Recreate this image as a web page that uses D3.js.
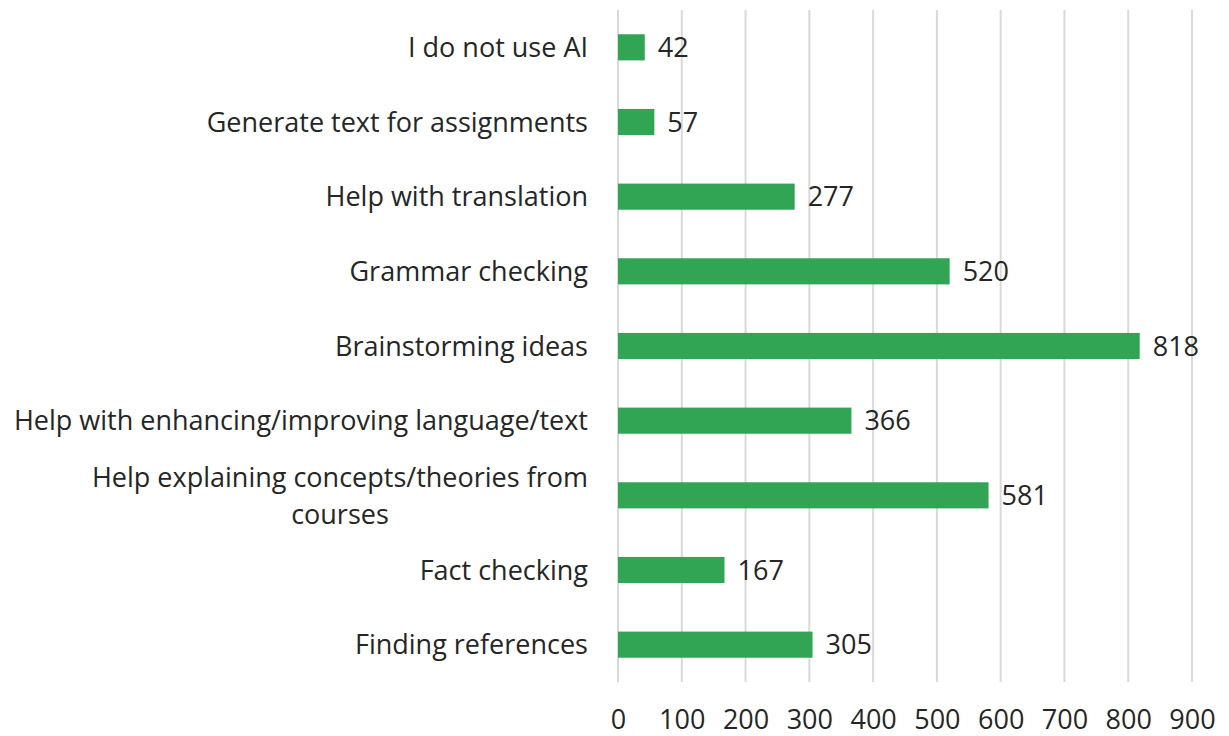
<!DOCTYPE html>
<html>
<head>
<meta charset="utf-8">
<script src="https://cdn.jsdelivr.net/npm/d3@7"></script>
<style>
  body { margin: 0; background: #fff; }
  svg text { font-family: "Open Sans", sans-serif; fill: #262626; }
</style>
</head>
<body>
<div id="chart"></div>
<script>
// categories top to bottom, with their counts
var categories = [
    "I do not use AI",
    "Generate text for assignments",
    "Help with translation",
    "Grammar checking",
    "Brainstorming ideas",
    "Help with enhancing/improving language/text",
    "Help explaining concepts/theories from courses",
    "Fact checking",
    "Finding references"
];
var values = [42, 57, 277, 520, 818, 366, 581, 167, 305];
var ticks = [0, 100, 200, 300, 400, 500, 600, 700, 800, 900];

// labels that wrap onto two lines
var wrapped = {
    "Help explaining concepts/theories from courses": ["Help explaining concepts/theories from", "courses"]
};

var width = 1229, height = 736;
var margin = { top: 10, right: 37, bottom: 54, left: 618 };
var fontSize = 27;

var svg = d3.select('#chart').append('svg')
    .attr('width', width)
    .attr('height', height);

var x = d3.scaleLinear()
    .domain([0, 900])
    .range([margin.left, width - margin.right]);

var y = d3.scaleBand()
    .domain(categories)
    .range([margin.top, height - margin.bottom])
    .paddingInner(0.65)
    .paddingOuter(0.325);

// vertical grid lines
svg.append('g').selectAll('line')
    .data(ticks)
    .enter().append('line')
    .attr('x1', function (d) { return x(d); })
    .attr('x2', function (d) { return x(d); })
    .attr('y1', margin.top)
    .attr('y2', height - margin.bottom)
    .style('stroke', '#d9d9d9')
    .style('stroke-width', 2);

// x axis, no domain line, only labels
var xAxis = svg.append('g')
    .attr('transform', 'translate(0,' + (height - margin.bottom) + ')')
    .call(d3.axisBottom(x).tickValues(ticks).tickSize(0).tickPadding(38));
xAxis.select('.domain').remove();
xAxis.selectAll('text').style('font-size', fontSize + 'px').attr('dy', '0.35em');

// bars
svg.append('g').selectAll('rect')
    .data(values)
    .enter().append('rect')
    .attr('x', x(0))
    .attr('y', function (d, i) { return y(categories[i]); })
    .attr('width', function (d) { return x(d) - x(0); })
    .attr('height', y.bandwidth())
    .style('fill', '#31a553');

// value labels
svg.append('g').selectAll('text')
    .data(values)
    .enter().append('text')
    .attr('x', function (d) { return x(d) + 13; })
    .attr('y', function (d, i) { return y(categories[i]) + y.bandwidth() / 2; })
    .attr('dy', '0.36em')
    .style('font-size', fontSize + 'px')
    .text(function (d) { return d; });

// category labels
var labelX = margin.left - 30;
svg.append('g').selectAll('text')
    .data(categories)
    .enter().append('text')
    .attr('x', labelX)
    .attr('y', function (d) { return y(d) + y.bandwidth() / 2; })
    .attr('text-anchor', 'end')
    .style('font-size', fontSize + 'px')
    .each(function (d) {
        var el = d3.select(this);
        var lines = wrapped[d];
        if (!lines) {
            el.attr('dy', '0.36em').text(d);
            return;
        }
        var lh = 37;
        var yc = y(d) + y.bandwidth() / 2;
        el.attr('dy', '0.36em').attr('y', yc - lh / 2).text(lines[0]);
        // second line is centred under the first
        var w = this.getComputedTextLength();
        d3.select(this.parentNode).append('text')
            .attr('x', labelX - w / 2)
            .attr('y', yc + lh / 2)
            .attr('dy', '0.36em')
            .attr('text-anchor', 'middle')
            .style('font-size', fontSize + 'px')
            .text(lines[1]);
    });
</script>
</body>
</html>
